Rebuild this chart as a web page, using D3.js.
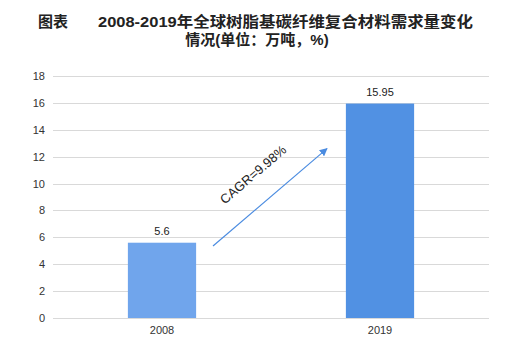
<!DOCTYPE html>
<html><head><meta charset="utf-8">
<script src="https://cdn.jsdelivr.net/npm/d3@7"></script>
<style>body{margin:0;background:#fff;} svg{display:block;font-family:"Liberation Sans","Noto Sans",sans-serif;}</style>
</head><body>
<svg id="c" width="518" height="357"></svg>
<script>
const categories = ["2008", "2019"];
const values = [5.6, 15.95];
const yTicks = [0, 2, 4, 6, 8, 10, 12, 14, 16, 18];
const barColors = ["#70A5EC", "#5191E3"];
const titleLine1a = "图表";
const titleLine1b = "2008-2019年全球树脂基碳纤维复合材料需求量变化";
const titleLine2 = "情况(单位：万吨，%)";
const cagrLabel = "CAGR=9.98%";

(function () {
const svg = d3.select("#c");
const pLeft = 53, pRight = 489, pTop = 76, pBottom = 318;
const x = d3.scaleBand().domain(categories).range([pLeft, pRight]).padding(0);
const y = d3.scaleLinear().domain([0, 18]).range([pBottom, pTop]);
const barW = x.bandwidth() * 0.313;

// title
const tf = '"Liberation Sans","Noto Sans CJK SC",sans-serif';
svg.append("text").attr("x", 38).attr("y", 27).attr("font-family", tf).attr("font-weight", "bold")
  .attr("font-size", 15).attr("fill", "#222").text(titleLine1a);
svg.append("text").attr("x", 98).attr("y", 27).attr("font-family", tf).attr("font-weight", "bold")
  .attr("font-size", 15).attr("fill", "#222").attr("textLength", 375).attr("lengthAdjust","spacingAndGlyphs").text(titleLine1b);
svg.append("text").attr("x", 257).attr("y", 44.5).attr("text-anchor", "middle").attr("font-family", tf).attr("font-weight", "bold")
  .attr("font-size", 15).attr("fill", "#222").text(titleLine2);

// gridlines
svg.append("g").selectAll("line").data(yTicks).join("line")
  .attr("x1", pLeft).attr("x2", pRight)
  .attr("y1", d => Math.round(y(d)) + 0.5).attr("y2", d => Math.round(y(d)) + 0.5)
  .attr("stroke", "#d9d9d9").attr("stroke-width", 1);

// y axis labels
const yAxis = d3.axisLeft(y).tickValues(yTicks).tickSize(0).tickPadding(0);
const ya = svg.append("g").attr("transform", `translate(${pLeft - 8},0)`).call(yAxis);
ya.select(".domain").remove();
ya.selectAll("text").attr("font-size", 11).attr("fill", "#333").attr("font-family", '"Liberation Sans",sans-serif');

// x axis labels
const xAxis = d3.axisBottom(x).tickSize(0).tickPadding(0);
const xa = svg.append("g").attr("transform", `translate(0,${pBottom + 8})`).call(xAxis);
xa.select(".domain").remove();
xa.selectAll("text").attr("font-size", 11).attr("fill", "#333").attr("font-family", '"Liberation Sans",sans-serif');

// bars
svg.append("g").selectAll("rect").data(values).join("rect")
  .attr("x", (d, i) => x(categories[i]) + x.bandwidth() / 2 - barW / 2)
  .attr("width", barW)
  .attr("y", d => y(d))
  .attr("height", d => y(0) - y(d))
  .attr("fill", (d, i) => barColors[i]);

// value labels
svg.append("g").selectAll("text").data(values).join("text")
  .attr("x", (d, i) => x(categories[i]) + x.bandwidth() / 2)
  .attr("y", d => y(d) - 8)
  .attr("text-anchor", "middle").attr("font-size", 11).attr("fill", "#222")
  .text(d => d);

// arrow
const defs = svg.append("defs");
defs.append("marker").attr("id", "ah").attr("viewBox", "0 0 10 10").attr("refX", 9).attr("refY", 5)
  .attr("markerWidth", 8).attr("markerHeight", 8).attr("markerUnits", "userSpaceOnUse").attr("orient", "auto")
  .append("path").attr("d", "M0,0 L10,5 L0,10 z").attr("fill", "#4A8BE0");
const ax1 = x(categories[0]) + x.bandwidth() / 2 + 51, ay1 = y(5.35);
const ax2 = x(categories[1]) + x.bandwidth() / 2 - 53, ay2 = y(12.6);
svg.append("line").attr("x1", ax1).attr("y1", ay1).attr("x2", ax2).attr("y2", ay2)
  .attr("stroke", "#4A8BE0").attr("stroke-width", 1.2).attr("marker-end", "url(#ah)");
const ang = Math.atan2(ay2 - ay1, ax2 - ax1) * 180 / Math.PI;
svg.append("text").attr("transform", `translate(256,178) rotate(${ang})`)
  .attr("text-anchor", "middle").attr("font-size", 13).attr("fill", "#222").text(cagrLabel);
})();
</script>
</body></html>
